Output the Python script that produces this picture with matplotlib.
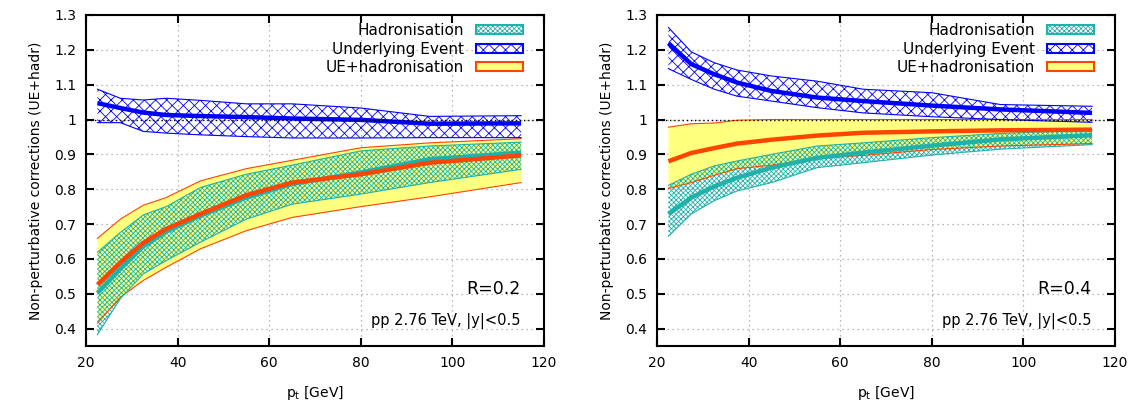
import matplotlib
matplotlib.use("Agg")
import matplotlib.pyplot as plt
from matplotlib.patches import Patch
from matplotlib.ticker import FormatStrFormatter, MultipleLocator

# ---------------- data ----------------
pt = [22.5, 27.5, 32.5, 37.5, 45, 55, 65, 80, 95, 115]

# R = 0.2
r02_had_c = [0.502, 0.571, 0.636, 0.678, 0.724, 0.776, 0.815, 0.848, 0.886, 0.905]
r02_had_lo = [0.383, 0.486, 0.557, 0.595, 0.648, 0.714, 0.757, 0.786, 0.819, 0.857]
r02_had_hi = [0.619, 0.676, 0.726, 0.750, 0.805, 0.843, 0.869, 0.910, 0.924, 0.935]
r02_ue_c = [1.047, 1.033, 1.020, 1.013, 1.010, 1.007, 1.003, 0.999, 0.988, 0.989]
r02_ue_lo = [0.991, 0.991, 0.966, 0.961, 0.956, 0.951, 0.947, 0.947, 0.948, 0.948]
r02_ue_hi = [1.087, 1.061, 1.056, 1.061, 1.055, 1.045, 1.045, 1.033, 1.009, 1.011]
r02_tot_c = [0.526, 0.590, 0.646, 0.686, 0.729, 0.783, 0.819, 0.843, 0.876, 0.897]
r02_tot_lo = [0.416, 0.490, 0.538, 0.576, 0.629, 0.681, 0.719, 0.750, 0.778, 0.819]
r02_tot_hi = [0.659, 0.714, 0.754, 0.776, 0.824, 0.859, 0.883, 0.919, 0.933, 0.945]

# R = 0.4
r04_had_c = [0.729, 0.776, 0.808, 0.833, 0.862, 0.890, 0.905, 0.925, 0.943, 0.955]
r04_had_lo = [0.665, 0.729, 0.767, 0.795, 0.819, 0.862, 0.876, 0.898, 0.915, 0.928]
r04_had_hi = [0.811, 0.843, 0.867, 0.881, 0.900, 0.924, 0.933, 0.948, 0.960, 0.970]
r04_ue_c = [1.219, 1.159, 1.130, 1.106, 1.082, 1.063, 1.053, 1.040, 1.029, 1.019]
r04_ue_lo = [1.146, 1.115, 1.087, 1.067, 1.053, 1.034, 1.019, 1.008, 1.000, 0.992]
r04_ue_hi = [1.264, 1.194, 1.163, 1.142, 1.125, 1.110, 1.087, 1.077, 1.043, 1.038]
r04_tot_c = [0.880, 0.904, 0.918, 0.931, 0.942, 0.954, 0.962, 0.966, 0.969, 0.971]
r04_tot_lo = [0.802, 0.819, 0.840, 0.859, 0.869, 0.888, 0.897, 0.914, 0.924, 0.931]
r04_tot_hi = [0.978, 0.988, 0.990, 0.998, 1.000, 1.000, 1.000, 1.000, 1.000, 1.000]

labels = ["Hadronisation", "Underlying Event", "UE+hadronisation"]
radius_labels = ["R=0.2", "R=0.4"]
info_label = "pp 2.76 TeV, |y|<0.5"
xlabel = "p$_\\mathregular{t}$ [GeV]"
ylabel = "Non-perturbative corrections (UE+hadr)"

# ---------------- style ----------------
TEAL = "#20b2aa"
BLUE = "#0000ff"
ORANGE = "#ff4500"
YELLOW = "#ffff80"
HATCH_HAD = "x" * 7
HATCH_UE = "xxx"

plt.rcParams["font.family"] = ["DejaVu Sans"]
plt.rcParams["hatch.linewidth"] = 0.6

fig = plt.figure(figsize=(11.39, 4.03), dpi=100)
ax1 = fig.add_axes([0.0755, 0.1414, 0.4021, 0.8214])
ax2 = fig.add_axes([0.5768, 0.1414, 0.4021, 0.8214])

panels = [
    (ax1, r02_had_c, r02_had_lo, r02_had_hi, r02_ue_c, r02_ue_lo, r02_ue_hi,
     r02_tot_c, r02_tot_lo, r02_tot_hi, radius_labels[0]),
    (ax2, r04_had_c, r04_had_lo, r04_had_hi, r04_ue_c, r04_ue_lo, r04_ue_hi,
     r04_tot_c, r04_tot_lo, r04_tot_hi, radius_labels[1]),
]

for (ax, hc, hlo, hhi, uc, ulo, uhi, tc, tlo, thi, rlab) in panels:
    # bands
    ax.fill_between(pt, tlo, thi, facecolor=YELLOW, edgecolor="none", lw=0, zorder=1)
    ax.fill_between(pt, hlo, hhi, facecolor="none", edgecolor=TEAL, hatch=HATCH_HAD, lw=0, zorder=2)
    ax.fill_between(pt, ulo, uhi, facecolor="none", edgecolor=BLUE, hatch=HATCH_UE, lw=0, zorder=2)
    # band edges
    ax.plot(pt, tlo, color=ORANGE, lw=0.8, zorder=3)
    ax.plot(pt, thi, color=ORANGE, lw=0.8, zorder=3)
    ax.plot(pt, hlo, color=TEAL, lw=0.8, zorder=3)
    ax.plot(pt, hhi, color=TEAL, lw=0.8, zorder=3)
    ax.plot(pt, ulo, color=BLUE, lw=0.8, zorder=3)
    ax.plot(pt, uhi, color=BLUE, lw=0.8, zorder=3)
    # central values
    ax.plot(pt, hc, color=TEAL, lw=3.2, zorder=4, solid_capstyle="butt")
    ax.plot(pt, tc, color=ORANGE, lw=3.2, zorder=5, solid_capstyle="butt")
    ax.plot(pt, uc, color=BLUE, lw=3.2, zorder=5, solid_capstyle="butt")

    ax.axhline(1.0, color="black", ls=(0, (1, 2)), lw=1.0, zorder=6)

    ax.set_xlim(20, 120)
    ax.set_ylim(0.35, 1.3)
    ax.xaxis.set_major_locator(MultipleLocator(20))
    ax.yaxis.set_major_locator(MultipleLocator(0.1))
    ax.yaxis.set_major_formatter(FormatStrFormatter("%g"))
    ax.grid(True, color="#a0a0a0", ls=(0, (1, 3)), lw=0.9, zorder=0)
    ax.set_axisbelow(True)
    ax.tick_params(direction="in", top=True, right=True, length=5.5, width=1.5,
                   labelsize=10, pad=7)
    for s in ax.spines.values():
        s.set_linewidth(1.5)

    ax.set_xlabel(xlabel, fontsize=10, labelpad=10)
    ax.set_ylabel(ylabel, fontsize=10, labelpad=8)

    ax.text(0.948, 0.171, rlab, transform=ax.transAxes, ha="right", va="center",
            fontsize=12.5, zorder=10)
    ax.text(0.948, 0.0765, info_label, transform=ax.transAxes, ha="right", va="center",
            fontsize=10.5, zorder=10)

    handles = [
        Patch(facecolor="white", edgecolor=TEAL, hatch=HATCH_HAD, lw=1.5),
        Patch(facecolor="white", edgecolor=BLUE, hatch=HATCH_UE, lw=1.5),
        Patch(facecolor=YELLOW, edgecolor=ORANGE, lw=1.5),
    ]
    leg = ax.legend(handles, labels, loc="upper right", bbox_to_anchor=(0.954, 0.975),
                    frameon=False, markerfirst=False, fontsize=11,
                    handlelength=3.1, handleheight=0.55, handletextpad=0.75,
                    labelspacing=0.22, borderpad=0, borderaxespad=0)
    leg.set_zorder(10)
    for col in leg._legend_handle_box.get_children():
        col.align = "right"

fig.savefig("out.png", dpi=100)
